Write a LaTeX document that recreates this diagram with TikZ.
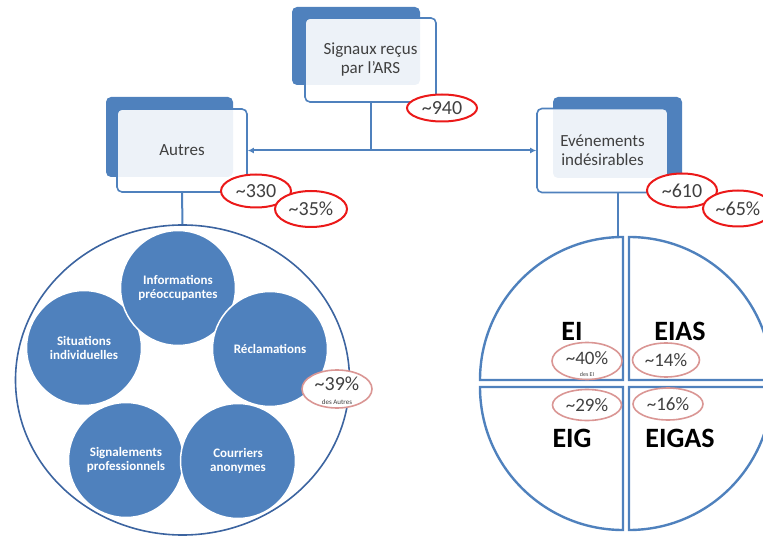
\documentclass[tikz,border=0pt]{standalone}
\usepackage{fontspec}
\setmainfont{Carlito}
\usetikzlibrary{shapes.geometric,arrows.meta}
\definecolor{bl}{RGB}{79,129,189}
\definecolor{dbl}{RGB}{60,100,160}
\definecolor{rd}{RGB}{235,25,25}
\definecolor{prd}{RGB}{218,150,148}
\definecolor{tx}{RGB}{64,64,64}
\tikzset{
  backbox/.style={fill=bl, draw=none, rounded corners=5pt, inner sep=0pt},
  frontbox/.style={fill=white, fill opacity=0.9, text opacity=1, draw=bl, line width=1.6pt,
    rounded corners=5pt, align=center, text=tx, inner sep=0pt,
    font=\fontsize{17}{19}\selectfont},
  conn/.style={draw=bl, line width=2pt},
  redlab/.style={ellipse, draw=rd, line width=2pt, fill=white, inner sep=0pt, text=tx,
    font=\fontsize{20}{22}\selectfont},
  palelab/.style={ellipse, draw=prd, line width=1.6pt, inner sep=0pt, text=tx, align=center,
    font=\fontsize{19}{20}\selectfont},
  bubble/.style={circle, fill=bl, draw=white, line width=1.5pt, minimum size=115pt,
    inner sep=0pt, text=white, align=center, font=\bfseries\fontsize{13}{14}\selectfont},
  quart/.style={draw=bl, line width=2.4pt},
  eilab/.style={font=\bfseries\fontsize{28}{30}\selectfont, text=black, inner sep=0pt},
}
\begin{document}
\begin{tikzpicture}[x=1pt,y=-1pt]
\useasboundingbox (0,0) rectangle (763,537);
\clip (0,0) rectangle (763,537);
% top box
\node[backbox, minimum width=128pt, minimum height=78pt] (sigB) at (356,46) {};
\node[frontbox, minimum width=131pt, minimum height=84pt] (sig) at (370.5,60) {Signaux reçus\\par l’ARS};
% Autres box
\node[backbox, minimum width=127pt, minimum height=80pt] (autB) at (169.5,137) {};
\node[frontbox, minimum width=130pt, minimum height=83pt] (aut) at (182,150.5) {Autres};
% Evenements box
\node[backbox, minimum width=129pt, minimum height=81pt] (evtB) at (617.5,137.5) {};
\node[frontbox, minimum width=131pt, minimum height=84pt] (evt) at (602.5,150.5) {Evénements\\indésirables};
% connectors
\draw[conn] (sig.south) -- (sig.south |- aut.east);
\draw[conn, {Latex[length=6pt,width=6pt]}-{Latex[length=6pt,width=6pt]}] (aut.east) -- (evt.west);
% left circle
\node[ellipse, draw=dbl, line width=1.6pt, minimum width=334pt, minimum height=310pt, inner sep=0pt] (leftc) at (182.5,380) {};
\draw[conn] (aut.south) -- (leftc.north);
\node[bubble] (sit) at (84,348) {Situations\\individuelles};
\node[bubble] (inf) at (178,288) {Informations\\préoccupantes};
\node[bubble] (rec) at (270,349) {Réclamations};
\node[bubble] (sgn) at (126,460) {Signalements\\professionnels};
\node[bubble] (cou) at (238,461) {Courriers\\anonymes};
\node[palelab, fill=white, minimum width=70pt, minimum height=38pt] (e39) at (337,389) {};
\node[text=tx, font=\fontsize{20}{22}\selectfont, inner sep=0pt] (t39) at (337,384) {\textasciitilde39\%};
\node[text=tx, font=\fontsize{7}{8}\selectfont, inner sep=0pt] (d39) at (337,402) {des Autres};
% right circle quarters
\coordinate (rtop) at (618,237);
\draw[conn] (evt.south -| rtop) -- (rtop);
\draw[quart] (623,380) -- ++(-143,0) arc[start angle=180,end angle=270,radius=143] -- cycle;
\draw[quart] (629,380) -- ++(0,-143) arc[start angle=270,end angle=360,radius=143] -- cycle;
\draw[quart] (623,387) -- ++(-143,0) arc[start angle=180,end angle=90,radius=143] -- cycle;
\draw[quart] (629,387) -- ++(143,0) arc[start angle=0,end angle=90,radius=143] -- cycle;
\node[eilab] (ei) at (572,331) {EI};
\node[eilab] (eias) at (680,331) {EIAS};
\node[eilab] (eig) at (572,438) {EIG};
\node[eilab] (eigas) at (680,438) {EIGAS};
\node[palelab, minimum width=70pt, minimum height=37pt] (e40) at (587,361) {};
\node[text=tx, font=\fontsize{19}{20}\selectfont, inner sep=0pt] (t40) at (587,358) {\textasciitilde40\%};
\node[text=tx, font=\fontsize{6}{7}\selectfont, inner sep=0pt] (d40) at (587,374) {des EI};
\node[palelab, minimum width=67pt, minimum height=34pt] (e14) at (666,360) {\textasciitilde14\%};
\node[palelab, minimum width=69pt, minimum height=31pt] (e29) at (587,405) {\textasciitilde29\%};
\node[palelab, minimum width=70pt, minimum height=32pt] (e16) at (668,404) {\textasciitilde16\%};
% red labels
\node[redlab, minimum width=70pt, minimum height=27pt] (n940) at (442,108) {\textasciitilde940};
\node[redlab, minimum width=70pt, minimum height=33pt] (n330) at (256,191) {\textasciitilde330};
\node[redlab, minimum width=72pt, minimum height=36pt] (n35) at (311,209) {\textasciitilde35\%};
\node[redlab, minimum width=70pt, minimum height=34pt] (n610) at (682,190.5) {\textasciitilde610};
\node[redlab, minimum width=70pt, minimum height=36pt] (n65) at (738,208.5) {\textasciitilde65\%};
\end{tikzpicture}
\end{document}
